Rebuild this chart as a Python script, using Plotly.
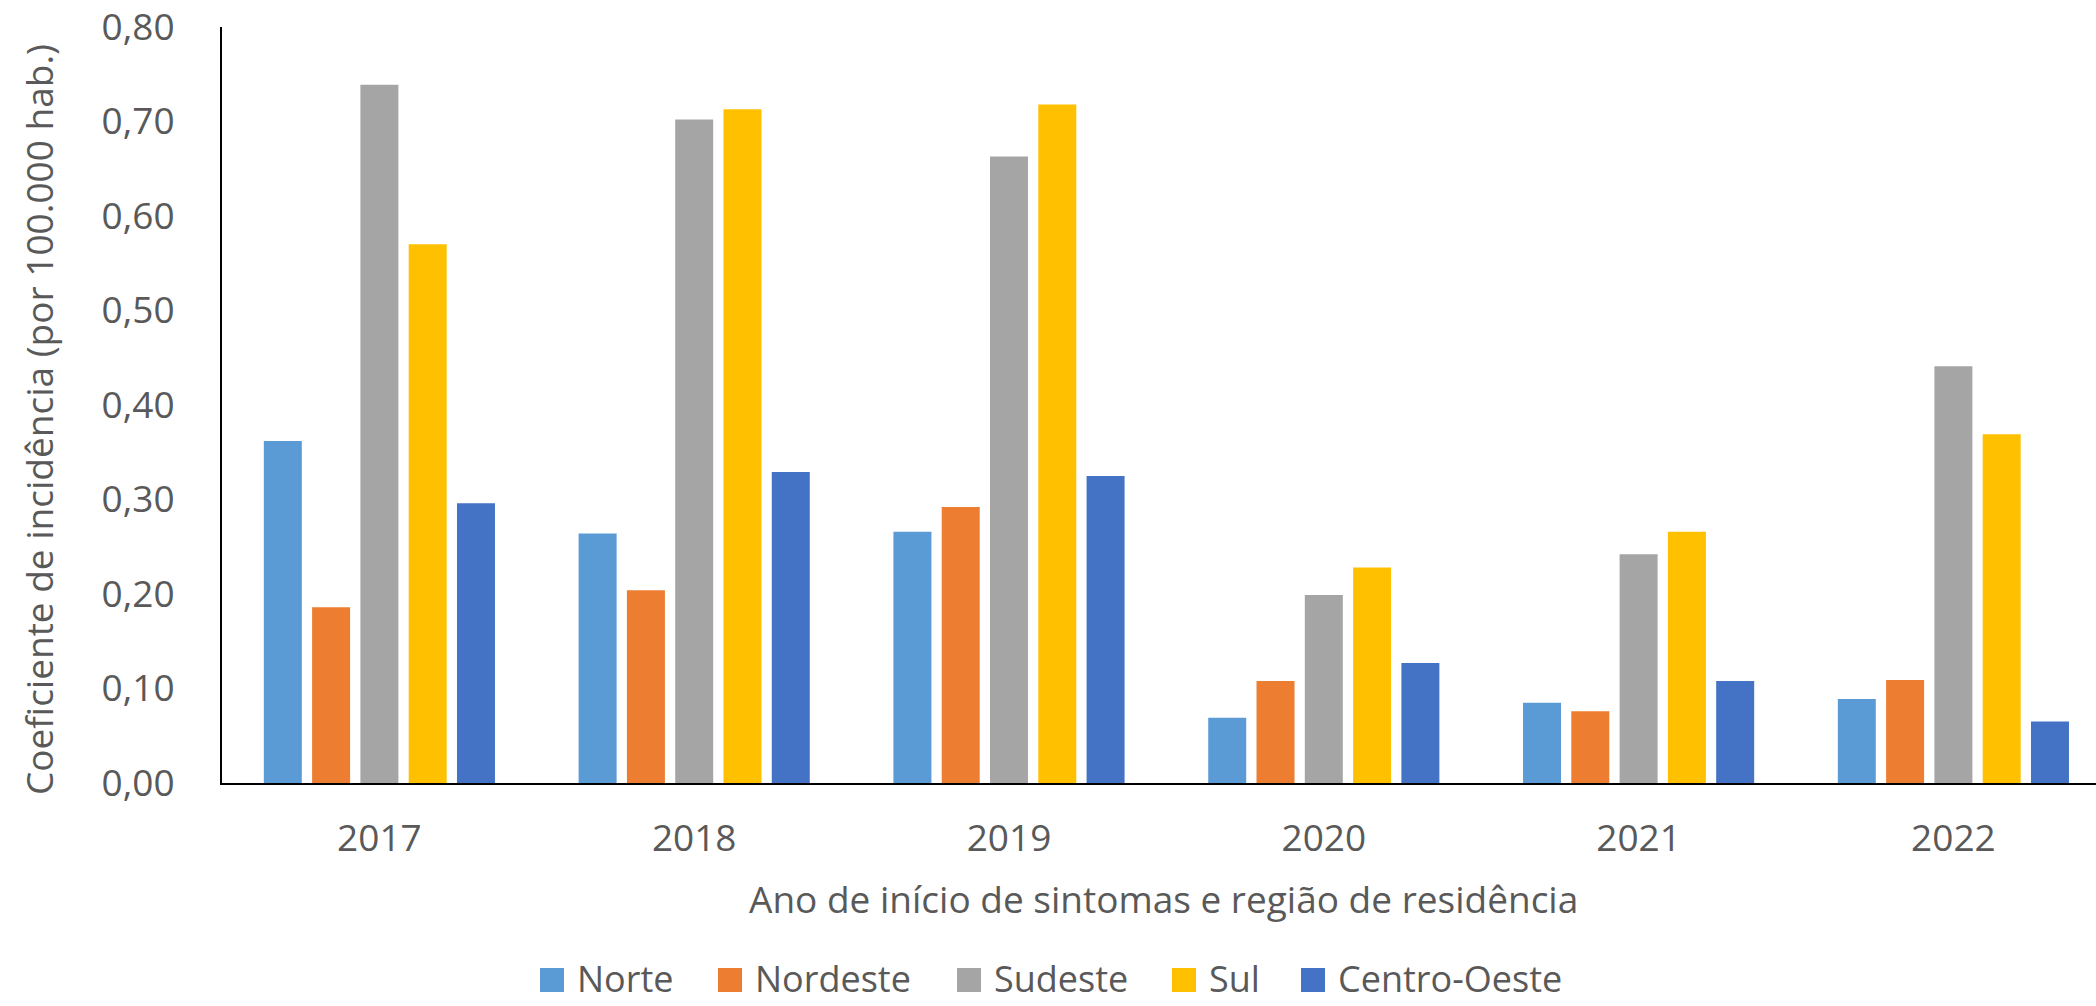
import plotly.graph_objects as go

anos = ["2017", "2018", "2019", "2020", "2021", "2022"]
regioes = ["Norte", "Nordeste", "Sudeste", "Sul", "Centro-Oeste"]
norte = [0.362, 0.264, 0.266, 0.069, 0.085, 0.089]
nordeste = [0.186, 0.204, 0.292, 0.108, 0.076, 0.109]
sudeste = [0.739, 0.702, 0.663, 0.199, 0.242, 0.441]
sul = [0.570, 0.713, 0.718, 0.228, 0.266, 0.369]
centro_oeste = [0.296, 0.329, 0.325, 0.127, 0.108, 0.065]
cores = ["#5B9BD5", "#ED7D31", "#A5A5A5", "#FFC000", "#4472C4"]
yticks = [0.0, 0.1, 0.2, 0.3, 0.4, 0.5, 0.6, 0.7, 0.8]

series = [norte, nordeste, sudeste, sul, centro_oeste]

W, H = 2096, 1006
ML, MR, MT, MB = 222, 0, 27, 223
PW, PH = W - ML - MR, H - MT - MB

def px_x(p):
    return (p - ML) / PW

def px_y(p):
    return (H - MB - p) / PH

FONT = "Open Sans"
GREY = "#595959"

fig = go.Figure()
for nome, vals, cor in zip(regioes, series, cores):
    fig.add_trace(go.Bar(x=anos, y=vals, name=nome, marker=dict(color=cor, line=dict(width=0)),
                         showlegend=False))

# category step in px = 314.8, plot area extends beyond figure by ~15px
step = 314.8
x_max = -0.5 + PW / step

fig.update_layout(
    width=W, height=H,
    margin=dict(l=ML, r=MR, t=MT, b=MB, pad=0, autoexpand=False),
    paper_bgcolor="white", plot_bgcolor="white",
    barmode="group", bargap=0.233, bargroupgap=0.213,
    separators=",.",
    font=dict(family=FONT, size=37, color=GREY),
    xaxis=dict(type="category", range=[-0.5, x_max], showline=True, linecolor="#000000", linewidth=2,
               ticks="", showgrid=False, tickfont=dict(size=37, color=GREY), ticklabelstandoff=22,
               zeroline=False, automargin=False),
    yaxis=dict(range=[0, 0.8], tickvals=yticks, tickformat=".2f", showline=True, linecolor="#000000",
               linewidth=2, ticks="", showgrid=False, zeroline=False, automargin=False,
               ticklabeloverflow="allow",
               tickfont=dict(size=37, color=GREY), ticklabelstandoff=38),
)

annotations = [
    dict(text="Ano de início de sintomas e região de residência", xref="paper", yref="paper",
         x=px_x(1163), y=px_y(898), xanchor="center", yanchor="middle", showarrow=False,
         font=dict(size=37, color=GREY, family=FONT)),
    dict(text="Coeficiente de incidência (por 100.000 hab.)", xref="paper", yref="paper",
         x=px_x(39), y=px_y(420), xanchor="center", yanchor="middle", textangle=-90, showarrow=False,
         font=dict(size=37, color=GREY, family=FONT)),
]
shapes = []
legend_left = [540, 718, 957, 1172, 1301]
sq = 24
ly = 978
for nome, cor, lx in zip(regioes, cores, legend_left):
    shapes.append(dict(type="rect", xref="paper", yref="paper",
                       x0=px_x(lx), x1=px_x(lx + sq), y0=px_y(ly + 2 + sq / 2), y1=px_y(ly + 2 - sq / 2),
                       fillcolor=cor, line=dict(width=0)))
    annotations.append(dict(text=nome, xref="paper", yref="paper", x=px_x(lx + sq + 11), y=px_y(ly),
                            xanchor="left", yanchor="middle", showarrow=False,
                            font=dict(size=36, color=GREY, family=FONT)))

fig.update_layout(annotations=annotations, shapes=shapes)
fig.write_html("out.html", config={"displayModeBar": False},
               post_script="document.body.style.margin='0';document.body.style.overflow='hidden';")
